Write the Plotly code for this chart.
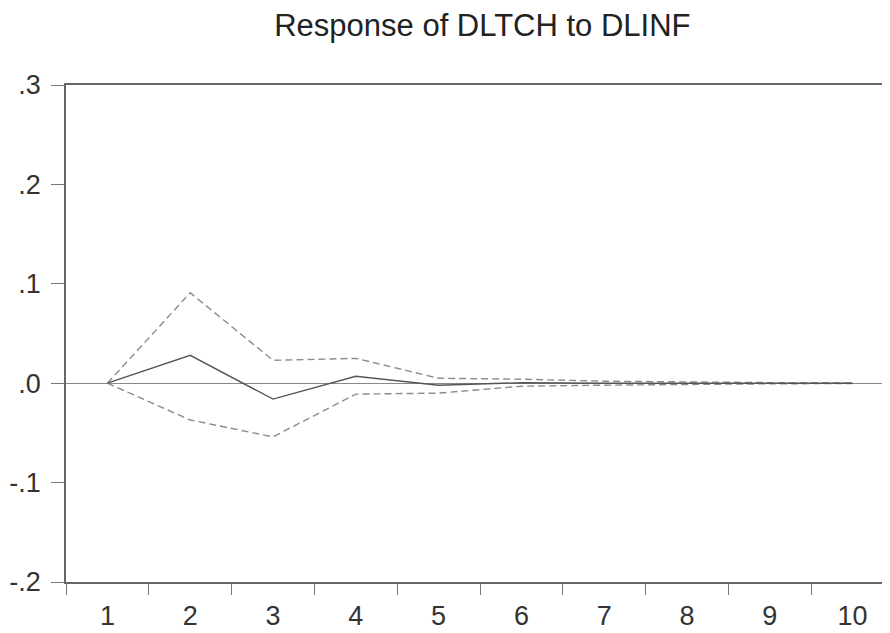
import plotly.graph_objects as go

periods = [1, 2, 3, 4, 5, 6, 7, 8, 9, 10]
response = [0.0, 0.028, -0.016, 0.007, -0.002, 0.0005, 0.0, 0.0, 0.0, 0.0]
upper = [0.0, 0.091, 0.023, 0.025, 0.005, 0.004, 0.002, 0.001, 0.0006, 0.0003]
lower = [0.0, -0.037, -0.054, -0.011, -0.010, -0.003, -0.002, -0.001, -0.0006, -0.0003]
y_ticks = [0.3, 0.2, 0.1, 0.0, -0.1, -0.2]
y_tick_labels = [".3", ".2", ".1", ".0", "-.1", "-.2"]
title_text = "Response of DLTCH to DLINF"

fig = go.Figure()
fig.add_trace(go.Scatter(x=periods, y=upper, mode="lines",
                         line=dict(color="#8c8c8c", width=1.4, dash="7px,4px")))
fig.add_trace(go.Scatter(x=periods, y=lower, mode="lines",
                         line=dict(color="#8c8c8c", width=1.4, dash="7px,4px")))
fig.add_trace(go.Scatter(x=periods, y=response, mode="lines",
                         line=dict(color="#555555", width=1.4)))

fig.update_layout(
    width=890, height=633,
    margin=dict(l=58, r=4, t=77, b=59),
    paper_bgcolor="white", plot_bgcolor="white",
    showlegend=False,
    font=dict(family="Liberation Sans, Arial, sans-serif", color="#333333"),
    title=dict(text=title_text, x=0.533, xanchor="center", y=0.973, yanchor="middle",
               font=dict(size=31, color="#222222")),
)
fig.update_xaxes(
    range=[0.5, 10.5], tickmode="array", tickvals=periods, automargin=False,
    ticktext=[str(p) for p in periods], ticks="", showgrid=False, zeroline=False,
    showline=True, linecolor="#666666", linewidth=1.5, mirror=True,
    tickfont=dict(size=27, color="#333333"), ticklabelstandoff=9,
    minor=dict(tick0=0.5, dtick=1, ticks="outside", ticklen=11, tickcolor="#777777", tickwidth=1, showgrid=False),
)
fig.update_yaxes(
    range=[-0.2, 0.3], tickmode="array", tickvals=y_ticks, ticktext=y_tick_labels,
    automargin=False,
    ticks="outside", ticklen=13, tickcolor="#777777", tickwidth=1,
    showgrid=False, zeroline=True, zerolinecolor="#888888", zerolinewidth=1,
    showline=True, linecolor="#666666", linewidth=1.5,
    tickfont=dict(size=27, color="#333333"), ticklabelstandoff=5,
)
fig.write_html("out.html")
